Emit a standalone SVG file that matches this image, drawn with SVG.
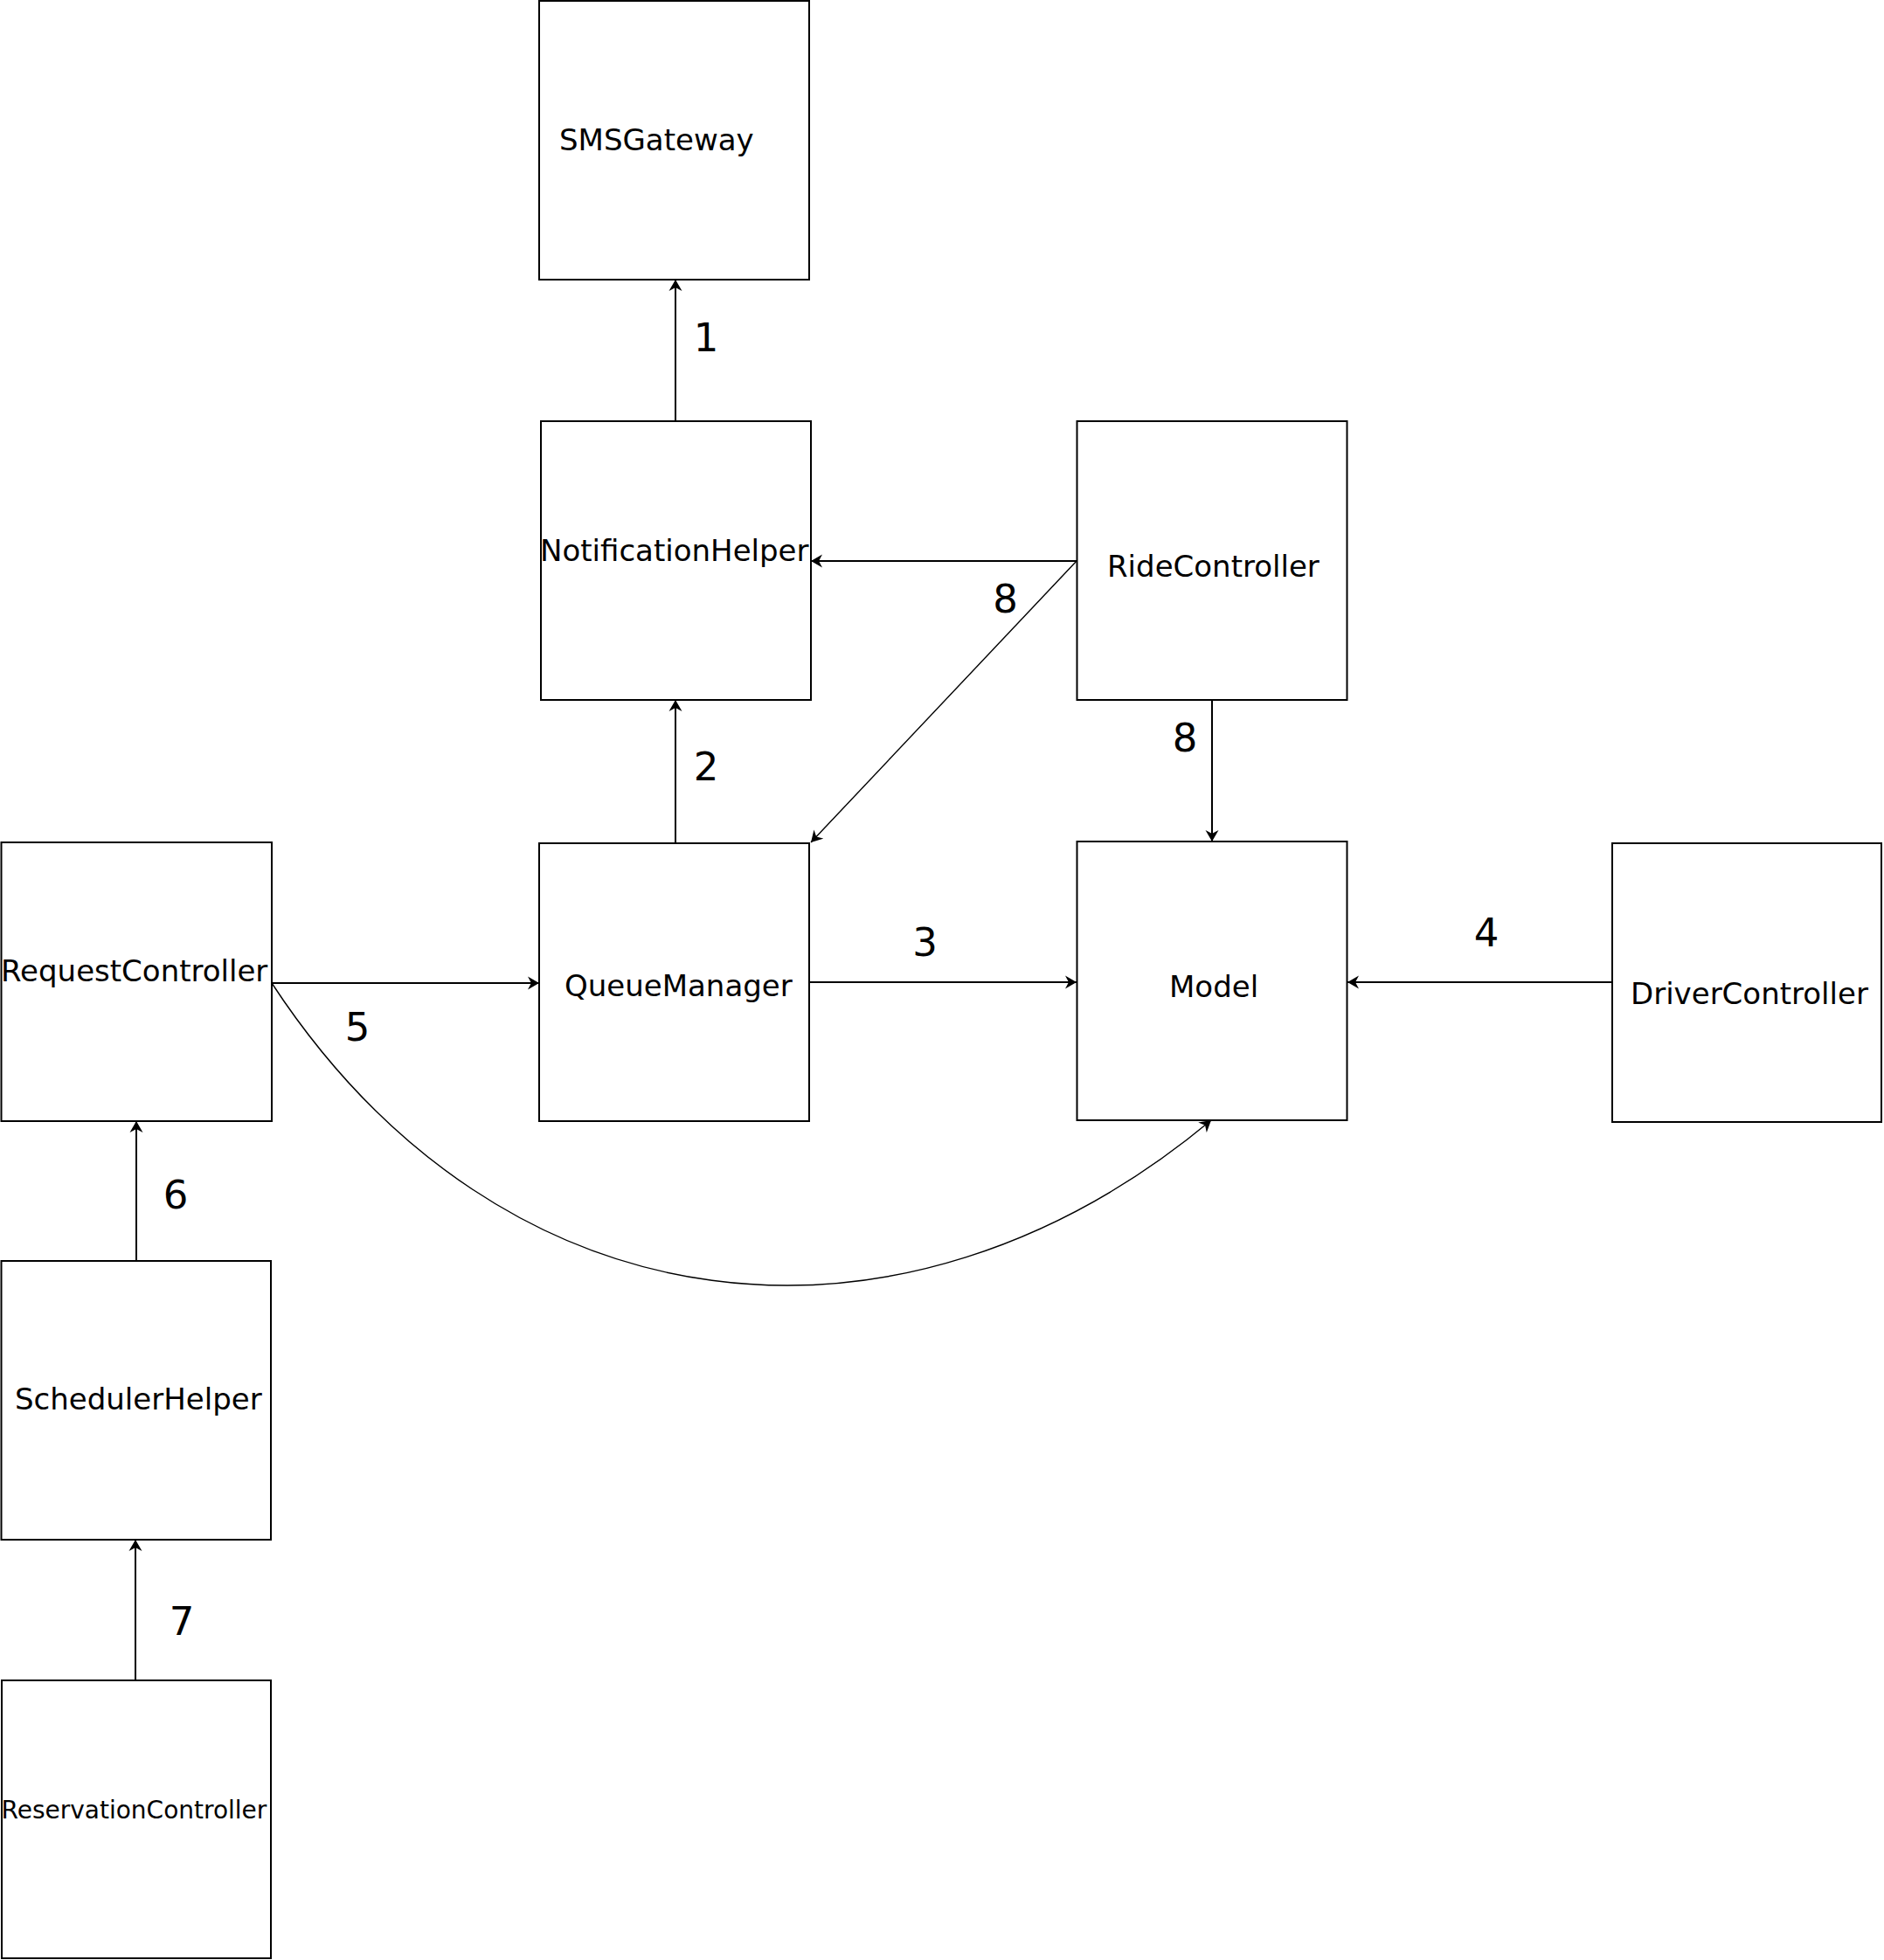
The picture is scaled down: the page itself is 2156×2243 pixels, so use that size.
<svg xmlns="http://www.w3.org/2000/svg" width="2156" height="2243" viewBox="0 0 2156 2243">
<style>
.box{fill:#fff;stroke:#000;stroke-width:2}
.lbl{font-family:"DejaVu Sans","Liberation Sans",sans-serif;font-size:34px;fill:#000}
.small{font-size:28px}
.num{font-family:"DejaVu Sans","Liberation Sans",sans-serif;font-size:45px;fill:#000;text-anchor:middle}
.edge{fill:none;stroke:#000;stroke-width:2;marker-end:url(#arr)}
.thin{stroke-width:1.4}
</style>
<defs>
<marker id="arr" markerUnits="userSpaceOnUse" markerWidth="14" markerHeight="16" viewBox="0 0 14 16" refX="13" refY="8" orient="auto">
<path d="M0,0.5 L13,8 L0,15.5 L4,8 Z" fill="#000"/>
</marker>
</defs>
<rect width="2156" height="2243" fill="#fff"/>
<g id="connectors">
<path class="edge" d="M773,482 L773,320"/>
<path class="edge" d="M773,965 L773,801"/>
<path class="edge" d="M1232,642 L928,642"/>
<path class="edge thin" d="M1232,642 L928,964"/>
<path class="edge" d="M1387,801 L1387,963"/>
<path class="edge" d="M311,1125 L617,1125"/>
<path class="edge" d="M926,1124 L1232,1124"/>
<path class="edge" d="M1845,1124 L1542,1124"/>
<path class="edge thin" d="M311,1125 C575,1528 1032,1577 1386,1282"/>
<path class="edge" d="M156,1443 L156,1283"/>
<path class="edge" d="M155,1923 L155,1762"/>
</g>
<g id="labels">
<text class="num" x="808" y="402">1</text>
<text class="num" x="808" y="893">2</text>
<text class="num" x="1058.5" y="1094">3</text>
<text class="num" x="1701" y="1083">4</text>
<text class="num" x="409" y="1191">5</text>
<text class="num" x="201" y="1383">6</text>
<text class="num" x="208" y="1871">7</text>
<text class="num" x="1150.5" y="701">8</text>
<text class="num" x="1356" y="860">8</text>
</g>
<g id="SMSGateway"><rect class="box" x="617" y="1" width="309" height="319"/><text class="lbl" x="640" y="172">SMSGateway</text></g>
<g id="NotificationHelper"><rect class="box" x="619" y="482" width="309" height="319"/><text class="lbl" x="618" y="642">NotificationHelper</text></g>
<g id="RideController"><rect class="box" x="1232.5" y="482" width="309" height="319"/><text class="lbl" x="1267" y="660">RideController</text></g>
<g id="RequestController"><rect class="box" x="1.5" y="964" width="309.5" height="319"/><text class="lbl" x="1" y="1123">RequestController</text></g>
<g id="QueueManager"><rect class="box" x="617" y="965" width="309" height="318"/><text class="lbl" x="646" y="1140">QueueManager</text></g>
<g id="Model"><rect class="box" x="1232.5" y="963" width="309" height="319"/><text class="lbl" x="1338" y="1141">Model</text></g>
<g id="DriverController"><rect class="box" x="1845" y="965" width="308" height="319"/><text class="lbl" x="1866" y="1149">DriverController</text></g>
<g id="SchedulerHelper"><rect class="box" x="1.5" y="1443" width="308.5" height="319"/><text class="lbl" x="17" y="1613">SchedulerHelper</text></g>
<g id="ReservationController"><rect class="box" x="2" y="1923" width="308" height="318"/><text class="lbl small" x="1.5" y="2081">ReservationController</text></g>
</svg>
